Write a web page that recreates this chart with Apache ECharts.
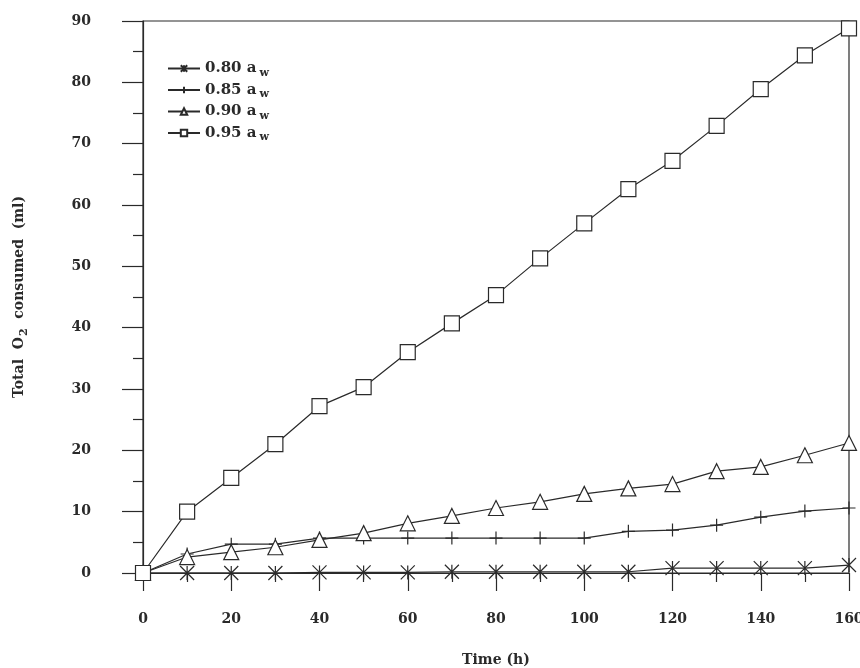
<!DOCTYPE html>
<html>
<head>
<meta charset="utf-8">
<script src="https://cdn.jsdelivr.net/npm/echarts@6/dist/echarts.min.js"></script>
<style>html,body{margin:0;padding:0;background:#fff}#c{width:860px;height:668px}</style>
</head>
<body>
<div id="c"></div>
<script>
const times = [0,10,20,30,40,50,60,70,80,90,100,110,120,130,140,150,160];
const aw080 = [0,0,0,0,0.1,0.1,0.1,0.2,0.2,0.2,0.2,0.2,0.8,0.8,0.8,0.8,1.3];
const aw085 = [0,3.1,4.7,4.7,5.7,5.7,5.7,5.7,5.7,5.7,5.7,6.8,7.0,7.8,9.1,10.1,10.6];
const aw090 = [0,2.6,3.4,4.2,5.4,6.5,8.1,9.3,10.6,11.6,12.9,13.8,14.5,16.6,17.3,19.2,21.2];
const aw095 = [0,10,15.5,21.0,27.2,30.3,36.0,40.7,45.3,51.3,57.0,62.6,67.2,72.9,78.9,84.4,88.8];
const seriesNames = ['0.80 a', '0.85 a', '0.90 a', '0.95 a'];

const INK = '#2a2a2a';
const FONT = 'DejaVu Serif';
const pair = arr => times.map((t, i) => [t, arr[i]]);
const asterisk = 'path://M0,0L10,10M10,0L0,10M5,0L5,10';
const plus = 'path://M5,0L5,10M0,5L10,5';

function mk(name, data, symbol, size, fill) {
  return {
    name, type: 'line', data: pair(data),
    symbol, symbolSize: size,
    lineStyle: { color: INK, width: 1.2 },
    itemStyle: { color: fill, borderColor: INK, borderWidth: 1.2 },
    emphasis: { disabled: true },
    z: 3
  };
}

const chart = echarts.init(document.getElementById('c'), null, { renderer: 'canvas' });
chart.setOption({
  animation: false,
  backgroundColor: '#fff',
  textStyle: { fontFamily: FONT, color: INK },
  grid: { left: 143, right: 11, top: 21, bottom: 95, show: true, borderColor: INK, borderWidth: 1.2,
          containLabel: false, outerBoundsMode: 'none' },
  legend: {
    orient: 'vertical', left: 162, top: 56, itemGap: 4,
    itemWidth: 32, itemHeight: 8,
    data: seriesNames,
    formatter: n => n + '{s|w}',
    textStyle: {
      fontFamily: FONT, fontSize: 15, color: INK, fontWeight: 'bold',
      rich: { s: { fontFamily: FONT, fontSize: 11, fontWeight: 'bold', color: INK, padding: [9, 0, 0, 3] } }
    }
  },
  xAxis: {
    type: 'value', min: 0, max: 160, interval: 20,
    name: 'Time (h)', nameLocation: 'middle', nameGap: 80,
    nameTextStyle: { fontFamily: FONT, fontSize: 14, fontWeight: 'bold', color: INK },
    axisLine: { lineStyle: { color: INK, width: 1.2 } },
    axisTick: { length: 18, lineStyle: { color: INK, width: 1.2 } },
    minorTick: { show: true, splitNumber: 2, length: 9, lineStyle: { color: INK, width: 1.2 } },
    axisLabel: { margin: 39, fontFamily: FONT, fontSize: 14, fontWeight: 'bold', color: INK },
    splitLine: { show: false }
  },
  yAxis: {
    type: 'value', min: 0, max: 90, interval: 10,
    name: 'Total  O{s|2}  consumed  (ml)', nameLocation: 'middle', nameGap: 113,
    nameRotate: 90,
    nameTextStyle: { fontFamily: FONT, fontSize: 14, fontWeight: 'bold', color: INK,
      rich: { s: { fontFamily: FONT, fontSize: 11, fontWeight: 'bold', color: INK, padding: [10, 0, 0, 1] } } },
    axisLine: { lineStyle: { color: INK, width: 1.2 } },
    axisTick: { length: 21, lineStyle: { color: INK, width: 1.2 } },
    minorTick: { show: true, splitNumber: 2, length: 10, lineStyle: { color: INK, width: 1.2 } },
    axisLabel: { margin: 52, fontFamily: FONT, fontSize: 14, fontWeight: 'bold', color: INK },
    splitLine: { show: false }
  },
  series: [
    mk(seriesNames[0], aw080, asterisk, 14, 'none'),
    mk(seriesNames[1], aw085, plus, 13, 'none'),
    mk(seriesNames[2], aw090, 'triangle', 15, '#fff'),
    mk(seriesNames[3], aw095, 'rect', 15, '#fff')
  ]
});
</script>
</body>
</html>
